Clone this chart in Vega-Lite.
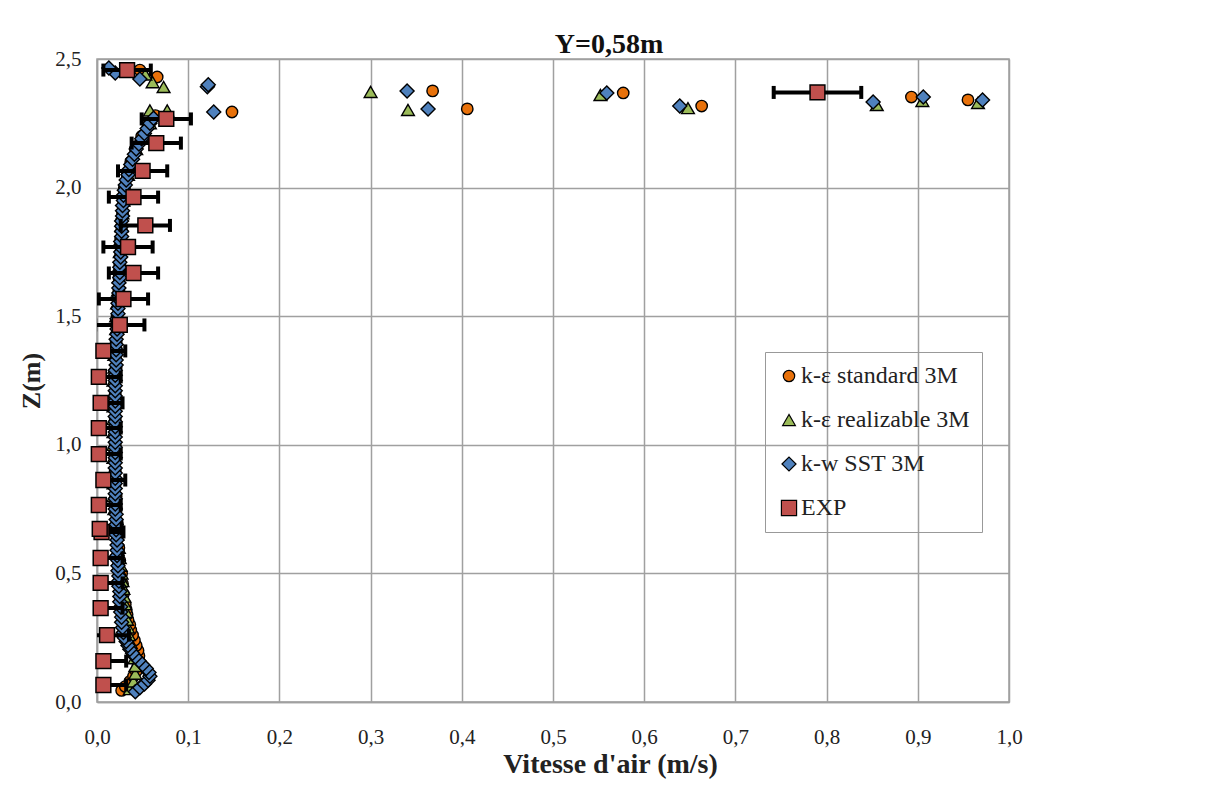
{
  "$schema": "https://vega.github.io/schema/vega-lite/v6.json",
  "width": 912,
  "height": 643,
  "autosize": {"type": "none"},
  "padding": {"left": 97, "top": 59, "right": 207, "bottom": 90},
  "background": "white",
  "config": {
    "font": "Liberation Serif",
    "view": {"stroke": "#a0a0a0", "strokeWidth": 1.5},
    "scale": {"continuousPadding": 0},
    "axis": {
      "gridColor": "#a0a0a0",
      "gridWidth": 1.5,
      "domainColor": "#a0a0a0",
      "domainWidth": 1.5,
      "ticks": false,
      "labelFlush": false,
      "labelFont": "Liberation Serif",
      "labelFontSize": 21,
      "labelColor": "#222",
      "titleFont": "Liberation Serif",
      "titleFontSize": 26,
      "titleFontWeight": "bold",
      "titleColor": "#222"
    },
    "legend": {
      "symbolStrokeColor": "black",
      "symbolStrokeWidth": 1.2
    }
  },
  "title": {
    "text": "Y=0,58m",
    "font": "Liberation Serif",
    "fontSize": 28,
    "fontWeight": "bold",
    "color": "#111",
    "anchor": "middle",
    "dx": 56,
    "offset": -11
  },
  "datasets": {
    "sim": [
      {"series": "k-ε standard 3M", "v": 0.027, "z": 0.045},
      {"series": "k-ε standard 3M", "v": 0.031, "z": 0.06},
      {"series": "k-ε standard 3M", "v": 0.036, "z": 0.08},
      {"series": "k-ε standard 3M", "v": 0.04, "z": 0.1},
      {"series": "k-ε standard 3M", "v": 0.043, "z": 0.12},
      {"series": "k-ε standard 3M", "v": 0.045, "z": 0.14},
      {"series": "k-ε standard 3M", "v": 0.046, "z": 0.16},
      {"series": "k-ε standard 3M", "v": 0.046, "z": 0.18},
      {"series": "k-ε standard 3M", "v": 0.045, "z": 0.2},
      {"series": "k-ε standard 3M", "v": 0.043, "z": 0.22},
      {"series": "k-ε standard 3M", "v": 0.041, "z": 0.24},
      {"series": "k-ε standard 3M", "v": 0.039, "z": 0.26},
      {"series": "k-ε standard 3M", "v": 0.037, "z": 0.28},
      {"series": "k-ε standard 3M", "v": 0.036, "z": 0.3},
      {"series": "k-ε standard 3M", "v": 0.034, "z": 0.32},
      {"series": "k-ε standard 3M", "v": 0.033, "z": 0.34},
      {"series": "k-ε standard 3M", "v": 0.032, "z": 0.36},
      {"series": "k-ε standard 3M", "v": 0.031, "z": 0.38},
      {"series": "k-ε standard 3M", "v": 0.029, "z": 0.42},
      {"series": "k-ε standard 3M", "v": 0.028, "z": 0.46},
      {"series": "k-ε standard 3M", "v": 0.027, "z": 0.5},
      {"series": "k-ε standard 3M", "v": 0.025, "z": 0.55},
      {"series": "k-ε standard 3M", "v": 0.024, "z": 0.6},
      {"series": "k-ε standard 3M", "v": 0.023, "z": 0.65},
      {"series": "k-ε standard 3M", "v": 0.022, "z": 0.7},
      {"series": "k-ε standard 3M", "v": 0.021, "z": 0.75},
      {"series": "k-ε standard 3M", "v": 0.021, "z": 0.8},
      {"series": "k-ε standard 3M", "v": 0.02, "z": 0.85},
      {"series": "k-ε standard 3M", "v": 0.02, "z": 0.9},
      {"series": "k-ε standard 3M", "v": 0.02, "z": 0.95},
      {"series": "k-ε standard 3M", "v": 0.02, "z": 1.0},
      {"series": "k-ε standard 3M", "v": 0.02, "z": 1.05},
      {"series": "k-ε standard 3M", "v": 0.02, "z": 1.1},
      {"series": "k-ε standard 3M", "v": 0.02, "z": 1.15},
      {"series": "k-ε standard 3M", "v": 0.02, "z": 1.2},
      {"series": "k-ε standard 3M", "v": 0.02, "z": 1.25},
      {"series": "k-ε standard 3M", "v": 0.021, "z": 1.3},
      {"series": "k-ε standard 3M", "v": 0.021, "z": 1.35},
      {"series": "k-ε standard 3M", "v": 0.021, "z": 1.4},
      {"series": "k-ε standard 3M", "v": 0.022, "z": 1.45},
      {"series": "k-ε standard 3M", "v": 0.022, "z": 1.5},
      {"series": "k-ε standard 3M", "v": 0.023, "z": 1.55},
      {"series": "k-ε standard 3M", "v": 0.024, "z": 1.6},
      {"series": "k-ε standard 3M", "v": 0.024, "z": 1.65},
      {"series": "k-ε standard 3M", "v": 0.025, "z": 1.7},
      {"series": "k-ε standard 3M", "v": 0.026, "z": 1.75},
      {"series": "k-ε standard 3M", "v": 0.026, "z": 1.8},
      {"series": "k-ε standard 3M", "v": 0.027, "z": 1.85},
      {"series": "k-ε standard 3M", "v": 0.028, "z": 1.9},
      {"series": "k-ε standard 3M", "v": 0.029, "z": 1.95},
      {"series": "k-ε standard 3M", "v": 0.03, "z": 2.0},
      {"series": "k-ε standard 3M", "v": 0.033, "z": 2.05},
      {"series": "k-ε standard 3M", "v": 0.037, "z": 2.1},
      {"series": "k-ε standard 3M", "v": 0.042, "z": 2.15},
      {"series": "k-ε standard 3M", "v": 0.049, "z": 2.2},
      {"series": "k-ε standard 3M", "v": 0.056, "z": 2.24},
      {"series": "k-ε standard 3M", "v": 0.064, "z": 2.28},
      {"series": "k-ε standard 3M", "v": 0.148, "z": 2.294},
      {"series": "k-ε standard 3M", "v": 0.406, "z": 2.306},
      {"series": "k-ε standard 3M", "v": 0.663, "z": 2.317},
      {"series": "k-ε standard 3M", "v": 0.955, "z": 2.341},
      {"series": "k-ε standard 3M", "v": 0.893, "z": 2.352},
      {"series": "k-ε standard 3M", "v": 0.577, "z": 2.368},
      {"series": "k-ε standard 3M", "v": 0.368, "z": 2.376},
      {"series": "k-ε standard 3M", "v": 0.066, "z": 2.43},
      {"series": "k-ε standard 3M", "v": 0.047, "z": 2.457},
      {"series": "k-ε realizable 3M", "v": 0.036, "z": 0.05},
      {"series": "k-ε realizable 3M", "v": 0.04, "z": 0.08},
      {"series": "k-ε realizable 3M", "v": 0.042, "z": 0.11},
      {"series": "k-ε realizable 3M", "v": 0.042, "z": 0.14},
      {"series": "k-ε realizable 3M", "v": 0.041, "z": 0.17},
      {"series": "k-ε realizable 3M", "v": 0.039, "z": 0.2},
      {"series": "k-ε realizable 3M", "v": 0.037, "z": 0.23},
      {"series": "k-ε realizable 3M", "v": 0.035, "z": 0.26},
      {"series": "k-ε realizable 3M", "v": 0.034, "z": 0.29},
      {"series": "k-ε realizable 3M", "v": 0.033, "z": 0.32},
      {"series": "k-ε realizable 3M", "v": 0.032, "z": 0.35},
      {"series": "k-ε realizable 3M", "v": 0.031, "z": 0.38},
      {"series": "k-ε realizable 3M", "v": 0.03, "z": 0.41},
      {"series": "k-ε realizable 3M", "v": 0.029, "z": 0.44},
      {"series": "k-ε realizable 3M", "v": 0.028, "z": 0.47},
      {"series": "k-ε realizable 3M", "v": 0.027, "z": 0.5},
      {"series": "k-ε realizable 3M", "v": 0.026, "z": 0.53},
      {"series": "k-ε realizable 3M", "v": 0.025, "z": 0.56},
      {"series": "k-ε realizable 3M", "v": 0.024, "z": 0.6},
      {"series": "k-ε realizable 3M", "v": 0.022, "z": 0.65},
      {"series": "k-ε realizable 3M", "v": 0.02, "z": 0.7},
      {"series": "k-ε realizable 3M", "v": 0.019, "z": 0.75},
      {"series": "k-ε realizable 3M", "v": 0.018, "z": 0.8},
      {"series": "k-ε realizable 3M", "v": 0.018, "z": 0.85},
      {"series": "k-ε realizable 3M", "v": 0.018, "z": 0.9},
      {"series": "k-ε realizable 3M", "v": 0.018, "z": 0.95},
      {"series": "k-ε realizable 3M", "v": 0.018, "z": 1.0},
      {"series": "k-ε realizable 3M", "v": 0.018, "z": 1.05},
      {"series": "k-ε realizable 3M", "v": 0.018, "z": 1.1},
      {"series": "k-ε realizable 3M", "v": 0.018, "z": 1.15},
      {"series": "k-ε realizable 3M", "v": 0.018, "z": 1.2},
      {"series": "k-ε realizable 3M", "v": 0.018, "z": 1.25},
      {"series": "k-ε realizable 3M", "v": 0.019, "z": 1.3},
      {"series": "k-ε realizable 3M", "v": 0.019, "z": 1.35},
      {"series": "k-ε realizable 3M", "v": 0.02, "z": 1.4},
      {"series": "k-ε realizable 3M", "v": 0.021, "z": 1.45},
      {"series": "k-ε realizable 3M", "v": 0.021, "z": 1.5},
      {"series": "k-ε realizable 3M", "v": 0.022, "z": 1.55},
      {"series": "k-ε realizable 3M", "v": 0.023, "z": 1.6},
      {"series": "k-ε realizable 3M", "v": 0.024, "z": 1.65},
      {"series": "k-ε realizable 3M", "v": 0.025, "z": 1.7},
      {"series": "k-ε realizable 3M", "v": 0.025, "z": 1.75},
      {"series": "k-ε realizable 3M", "v": 0.026, "z": 1.8},
      {"series": "k-ε realizable 3M", "v": 0.027, "z": 1.85},
      {"series": "k-ε realizable 3M", "v": 0.028, "z": 1.9},
      {"series": "k-ε realizable 3M", "v": 0.029, "z": 1.95},
      {"series": "k-ε realizable 3M", "v": 0.031, "z": 2.0},
      {"series": "k-ε realizable 3M", "v": 0.034, "z": 2.05},
      {"series": "k-ε realizable 3M", "v": 0.038, "z": 2.1},
      {"series": "k-ε realizable 3M", "v": 0.043, "z": 2.15},
      {"series": "k-ε realizable 3M", "v": 0.05, "z": 2.2},
      {"series": "k-ε realizable 3M", "v": 0.058, "z": 2.25},
      {"series": "k-ε realizable 3M", "v": 0.058, "z": 2.3},
      {"series": "k-ε realizable 3M", "v": 0.077, "z": 2.3},
      {"series": "k-ε realizable 3M", "v": 0.341, "z": 2.302},
      {"series": "k-ε realizable 3M", "v": 0.648, "z": 2.309},
      {"series": "k-ε realizable 3M", "v": 0.855, "z": 2.321},
      {"series": "k-ε realizable 3M", "v": 0.966, "z": 2.329},
      {"series": "k-ε realizable 3M", "v": 0.905, "z": 2.337},
      {"series": "k-ε realizable 3M", "v": 0.552, "z": 2.36},
      {"series": "k-ε realizable 3M", "v": 0.3, "z": 2.372},
      {"series": "k-ε realizable 3M", "v": 0.073, "z": 2.391},
      {"series": "k-ε realizable 3M", "v": 0.061, "z": 2.41},
      {"series": "k-ε realizable 3M", "v": 0.053, "z": 2.44},
      {"series": "k-w SST 3M", "v": 0.042, "z": 0.04},
      {"series": "k-w SST 3M", "v": 0.047, "z": 0.055},
      {"series": "k-w SST 3M", "v": 0.052, "z": 0.07},
      {"series": "k-w SST 3M", "v": 0.056, "z": 0.085},
      {"series": "k-w SST 3M", "v": 0.058, "z": 0.1},
      {"series": "k-w SST 3M", "v": 0.057, "z": 0.115},
      {"series": "k-w SST 3M", "v": 0.054, "z": 0.13},
      {"series": "k-w SST 3M", "v": 0.05, "z": 0.145},
      {"series": "k-w SST 3M", "v": 0.046, "z": 0.16},
      {"series": "k-w SST 3M", "v": 0.042, "z": 0.175},
      {"series": "k-w SST 3M", "v": 0.039, "z": 0.19},
      {"series": "k-w SST 3M", "v": 0.036, "z": 0.205},
      {"series": "k-w SST 3M", "v": 0.034, "z": 0.22},
      {"series": "k-w SST 3M", "v": 0.032, "z": 0.235},
      {"series": "k-w SST 3M", "v": 0.03, "z": 0.25},
      {"series": "k-w SST 3M", "v": 0.029, "z": 0.27},
      {"series": "k-w SST 3M", "v": 0.028, "z": 0.29},
      {"series": "k-w SST 3M", "v": 0.027, "z": 0.31},
      {"series": "k-w SST 3M", "v": 0.027, "z": 0.33},
      {"series": "k-w SST 3M", "v": 0.026, "z": 0.35},
      {"series": "k-w SST 3M", "v": 0.026, "z": 0.37},
      {"series": "k-w SST 3M", "v": 0.025, "z": 0.39},
      {"series": "k-w SST 3M", "v": 0.025, "z": 0.41},
      {"series": "k-w SST 3M", "v": 0.025, "z": 0.43},
      {"series": "k-w SST 3M", "v": 0.024, "z": 0.45},
      {"series": "k-w SST 3M", "v": 0.024, "z": 0.47},
      {"series": "k-w SST 3M", "v": 0.024, "z": 0.49},
      {"series": "k-w SST 3M", "v": 0.023, "z": 0.51},
      {"series": "k-w SST 3M", "v": 0.023, "z": 0.53},
      {"series": "k-w SST 3M", "v": 0.023, "z": 0.55},
      {"series": "k-w SST 3M", "v": 0.022, "z": 0.57},
      {"series": "k-w SST 3M", "v": 0.022, "z": 0.59},
      {"series": "k-w SST 3M", "v": 0.022, "z": 0.61},
      {"series": "k-w SST 3M", "v": 0.022, "z": 0.63},
      {"series": "k-w SST 3M", "v": 0.021, "z": 0.65},
      {"series": "k-w SST 3M", "v": 0.021, "z": 0.67},
      {"series": "k-w SST 3M", "v": 0.021, "z": 0.69},
      {"series": "k-w SST 3M", "v": 0.021, "z": 0.71},
      {"series": "k-w SST 3M", "v": 0.021, "z": 0.73},
      {"series": "k-w SST 3M", "v": 0.02, "z": 0.75},
      {"series": "k-w SST 3M", "v": 0.02, "z": 0.77},
      {"series": "k-w SST 3M", "v": 0.02, "z": 0.79},
      {"series": "k-w SST 3M", "v": 0.02, "z": 0.81},
      {"series": "k-w SST 3M", "v": 0.02, "z": 0.83},
      {"series": "k-w SST 3M", "v": 0.02, "z": 0.85},
      {"series": "k-w SST 3M", "v": 0.02, "z": 0.87},
      {"series": "k-w SST 3M", "v": 0.02, "z": 0.89},
      {"series": "k-w SST 3M", "v": 0.02, "z": 0.91},
      {"series": "k-w SST 3M", "v": 0.02, "z": 0.93},
      {"series": "k-w SST 3M", "v": 0.02, "z": 0.95},
      {"series": "k-w SST 3M", "v": 0.02, "z": 0.97},
      {"series": "k-w SST 3M", "v": 0.02, "z": 0.99},
      {"series": "k-w SST 3M", "v": 0.02, "z": 1.01},
      {"series": "k-w SST 3M", "v": 0.02, "z": 1.03},
      {"series": "k-w SST 3M", "v": 0.02, "z": 1.05},
      {"series": "k-w SST 3M", "v": 0.02, "z": 1.07},
      {"series": "k-w SST 3M", "v": 0.02, "z": 1.09},
      {"series": "k-w SST 3M", "v": 0.02, "z": 1.11},
      {"series": "k-w SST 3M", "v": 0.02, "z": 1.13},
      {"series": "k-w SST 3M", "v": 0.02, "z": 1.15},
      {"series": "k-w SST 3M", "v": 0.02, "z": 1.17},
      {"series": "k-w SST 3M", "v": 0.02, "z": 1.19},
      {"series": "k-w SST 3M", "v": 0.02, "z": 1.21},
      {"series": "k-w SST 3M", "v": 0.02, "z": 1.23},
      {"series": "k-w SST 3M", "v": 0.02, "z": 1.25},
      {"series": "k-w SST 3M", "v": 0.02, "z": 1.27},
      {"series": "k-w SST 3M", "v": 0.02, "z": 1.29},
      {"series": "k-w SST 3M", "v": 0.021, "z": 1.31},
      {"series": "k-w SST 3M", "v": 0.021, "z": 1.33},
      {"series": "k-w SST 3M", "v": 0.021, "z": 1.35},
      {"series": "k-w SST 3M", "v": 0.021, "z": 1.37},
      {"series": "k-w SST 3M", "v": 0.021, "z": 1.39},
      {"series": "k-w SST 3M", "v": 0.021, "z": 1.41},
      {"series": "k-w SST 3M", "v": 0.022, "z": 1.43},
      {"series": "k-w SST 3M", "v": 0.022, "z": 1.45},
      {"series": "k-w SST 3M", "v": 0.022, "z": 1.47},
      {"series": "k-w SST 3M", "v": 0.022, "z": 1.49},
      {"series": "k-w SST 3M", "v": 0.023, "z": 1.51},
      {"series": "k-w SST 3M", "v": 0.023, "z": 1.53},
      {"series": "k-w SST 3M", "v": 0.023, "z": 1.55},
      {"series": "k-w SST 3M", "v": 0.023, "z": 1.57},
      {"series": "k-w SST 3M", "v": 0.024, "z": 1.59},
      {"series": "k-w SST 3M", "v": 0.024, "z": 1.61},
      {"series": "k-w SST 3M", "v": 0.024, "z": 1.63},
      {"series": "k-w SST 3M", "v": 0.025, "z": 1.65},
      {"series": "k-w SST 3M", "v": 0.025, "z": 1.67},
      {"series": "k-w SST 3M", "v": 0.025, "z": 1.69},
      {"series": "k-w SST 3M", "v": 0.025, "z": 1.71},
      {"series": "k-w SST 3M", "v": 0.026, "z": 1.73},
      {"series": "k-w SST 3M", "v": 0.026, "z": 1.75},
      {"series": "k-w SST 3M", "v": 0.026, "z": 1.77},
      {"series": "k-w SST 3M", "v": 0.026, "z": 1.79},
      {"series": "k-w SST 3M", "v": 0.027, "z": 1.81},
      {"series": "k-w SST 3M", "v": 0.027, "z": 1.83},
      {"series": "k-w SST 3M", "v": 0.027, "z": 1.85},
      {"series": "k-w SST 3M", "v": 0.027, "z": 1.87},
      {"series": "k-w SST 3M", "v": 0.028, "z": 1.89},
      {"series": "k-w SST 3M", "v": 0.028, "z": 1.91},
      {"series": "k-w SST 3M", "v": 0.028, "z": 1.93},
      {"series": "k-w SST 3M", "v": 0.029, "z": 1.95},
      {"series": "k-w SST 3M", "v": 0.029, "z": 1.97},
      {"series": "k-w SST 3M", "v": 0.03, "z": 1.99},
      {"series": "k-w SST 3M", "v": 0.031, "z": 2.01},
      {"series": "k-w SST 3M", "v": 0.032, "z": 2.03},
      {"series": "k-w SST 3M", "v": 0.034, "z": 2.05},
      {"series": "k-w SST 3M", "v": 0.035, "z": 2.07},
      {"series": "k-w SST 3M", "v": 0.037, "z": 2.09},
      {"series": "k-w SST 3M", "v": 0.039, "z": 2.11},
      {"series": "k-w SST 3M", "v": 0.041, "z": 2.13},
      {"series": "k-w SST 3M", "v": 0.043, "z": 2.15},
      {"series": "k-w SST 3M", "v": 0.046, "z": 2.17},
      {"series": "k-w SST 3M", "v": 0.049, "z": 2.19},
      {"series": "k-w SST 3M", "v": 0.052, "z": 2.21},
      {"series": "k-w SST 3M", "v": 0.055, "z": 2.23},
      {"series": "k-w SST 3M", "v": 0.058, "z": 2.25},
      {"series": "k-w SST 3M", "v": 0.062, "z": 2.27},
      {"series": "k-w SST 3M", "v": 0.128, "z": 2.294},
      {"series": "k-w SST 3M", "v": 0.363, "z": 2.306},
      {"series": "k-w SST 3M", "v": 0.639, "z": 2.317},
      {"series": "k-w SST 3M", "v": 0.851, "z": 2.333},
      {"series": "k-w SST 3M", "v": 0.971, "z": 2.341},
      {"series": "k-w SST 3M", "v": 0.906, "z": 2.352},
      {"series": "k-w SST 3M", "v": 0.559, "z": 2.368},
      {"series": "k-w SST 3M", "v": 0.34, "z": 2.376},
      {"series": "k-w SST 3M", "v": 0.121, "z": 2.392},
      {"series": "k-w SST 3M", "v": 0.122, "z": 2.4},
      {"series": "k-w SST 3M", "v": 0.047, "z": 2.422},
      {"series": "k-w SST 3M", "v": 0.02, "z": 2.446},
      {"series": "k-w SST 3M", "v": 0.013, "z": 2.465}
    ],
    "exp": [
      {"series": "EXP", "v": 0.007, "z": 0.066, "lo": -0.018, "hi": 0.032},
      {"series": "EXP", "v": 0.007, "z": 0.159, "lo": -0.018, "hi": 0.032},
      {"series": "EXP", "v": 0.011, "z": 0.26, "lo": -0.013, "hi": 0.035},
      {"series": "EXP", "v": 0.004, "z": 0.365, "lo": -0.02, "hi": 0.028},
      {"series": "EXP", "v": 0.004, "z": 0.463, "lo": -0.02, "hi": 0.028},
      {"series": "EXP", "v": 0.004, "z": 0.56, "lo": -0.02, "hi": 0.028},
      {"series": "EXP", "v": 0.005, "z": 0.661, "lo": -0.019, "hi": 0.029},
      {"series": "EXP", "v": 0.003, "z": 0.673, "lo": -0.021, "hi": 0.027},
      {"series": "EXP", "v": 0.002, "z": 0.766, "lo": -0.022, "hi": 0.026},
      {"series": "EXP", "v": 0.007, "z": 0.863, "lo": -0.017, "hi": 0.031},
      {"series": "EXP", "v": 0.002, "z": 0.964, "lo": -0.022, "hi": 0.026},
      {"series": "EXP", "v": 0.002, "z": 1.065, "lo": -0.022, "hi": 0.026},
      {"series": "EXP", "v": 0.004, "z": 1.163, "lo": -0.02, "hi": 0.028},
      {"series": "EXP", "v": 0.002, "z": 1.264, "lo": -0.022, "hi": 0.026},
      {"series": "EXP", "v": 0.007, "z": 1.365, "lo": -0.017, "hi": 0.031},
      {"series": "EXP", "v": 0.025, "z": 1.466, "lo": -0.002, "hi": 0.052},
      {"series": "EXP", "v": 0.029, "z": 1.567, "lo": 0.002, "hi": 0.056},
      {"series": "EXP", "v": 0.04, "z": 1.668, "lo": 0.013, "hi": 0.067},
      {"series": "EXP", "v": 0.034, "z": 1.769, "lo": 0.007, "hi": 0.061},
      {"series": "EXP", "v": 0.053, "z": 1.853, "lo": 0.026, "hi": 0.08},
      {"series": "EXP", "v": 0.04, "z": 1.963, "lo": 0.013, "hi": 0.067},
      {"series": "EXP", "v": 0.05, "z": 2.065, "lo": 0.023, "hi": 0.077},
      {"series": "EXP", "v": 0.065, "z": 2.173, "lo": 0.038, "hi": 0.092},
      {"series": "EXP", "v": 0.076, "z": 2.267, "lo": 0.049, "hi": 0.103},
      {"series": "EXP", "v": 0.79, "z": 2.37, "lo": 0.742, "hi": 0.838},
      {"series": "EXP", "v": 0.033, "z": 2.457, "lo": 0.007, "hi": 0.059}
    ]
  },
  "encoding": {
    "y": {
      "field": "z",
      "type": "quantitative",
      "scale": {"domain": [0, 2.5], "nice": false, "padding": 0},
      "axis": {
        "title": "Z(m)",
        "values": [0, 0.5, 1, 1.5, 2, 2.5],
        "labelExpr": "replace(format(datum.value, '.1f'), '.', ',')",
        "labelPadding": 16,
        "titlePadding": 10
      }
    }
  },
  "layer": [
    {
      "data": {"name": "sim"},
      "mark": {"type": "point", "filled": true, "opacity": 1, "stroke": "black", "strokeWidth": 1.4},
      "encoding": {
        "x": {
          "field": "v",
          "type": "quantitative",
          "scale": {"domain": [0, 1], "nice": false, "zero": false, "padding": 0},
          "axis": {
            "title": "Vitesse d'air (m/s)",
            "titleFontSize": 28,
            "values": [0, 0.1, 0.2, 0.3, 0.4, 0.5, 0.6, 0.7, 0.8, 0.9, 1],
            "labelExpr": "replace(format(datum.value, '.1f'), '.', ',')",
            "labelPadding": 24,
            "titlePadding": 3,
            "titleX": 513,
            "titleAnchor": "middle"
          }
        },
        "color": {
          "field": "series",
          "type": "nominal",
          "scale": {
            "domain": ["k-ε standard 3M", "k-ε realizable 3M", "k-w SST 3M", "EXP"],
            "range": ["#E8710A", "#9BBB59", "#4F81BD", "#C0504D"]
          },
          "legend": {
            "title": null,
            "orient": "none",
            "legendX": 668,
            "legendY": 293,
            "strokeColor": "#999999",
            "padding": 12,
            "labelFont": "Liberation Serif",
            "labelFontSize": 24,
            "labelColor": "#222",
            "labelLimit": 300,
            "symbolSize": 130,
            "rowPadding": 20,
            "labelOffset": 0
          }
        },
        "shape": {
          "field": "series",
          "type": "nominal",
          "scale": {
            "domain": ["k-ε standard 3M", "k-ε realizable 3M", "k-w SST 3M", "EXP"],
            "range": ["circle", "triangle-up", "diamond", "square"]
          }
        },
        "size": {
          "field": "series",
          "type": "nominal",
          "scale": {
            "domain": ["k-ε standard 3M", "k-ε realizable 3M", "k-w SST 3M", "EXP"],
            "range": [130, 230, 220, 220]
          },
          "legend": null
        }
      }
    },
    {
      "data": {"name": "exp"},
      "mark": {"type": "rule", "color": "black", "strokeWidth": 4, "clip": true},
      "encoding": {
        "x": {"field": "lo", "type": "quantitative", "scale": {"domain": [0, 1], "nice": false, "zero": false, "padding": 0}},
        "x2": {"field": "hi"}
      }
    },
    {
      "data": {"name": "exp"},
      "mark": {"type": "tick", "color": "black", "orient": "vertical", "size": 13, "thickness": 4, "opacity": 1, "clip": true},
      "encoding": {
        "x": {"field": "lo", "type": "quantitative", "scale": {"domain": [0, 1], "nice": false, "zero": false, "padding": 0}}
      }
    },
    {
      "data": {"name": "exp"},
      "mark": {"type": "tick", "color": "black", "orient": "vertical", "size": 13, "thickness": 4, "opacity": 1, "clip": true},
      "encoding": {
        "x": {"field": "hi", "type": "quantitative", "scale": {"domain": [0, 1], "nice": false, "zero": false, "padding": 0}}
      }
    },
    {
      "data": {"name": "exp"},
      "mark": {"type": "point", "filled": true, "opacity": 1, "stroke": "black", "strokeWidth": 1.5, "size": 220},
      "encoding": {
        "x": {"field": "v", "type": "quantitative", "scale": {"domain": [0, 1], "nice": false, "zero": false, "padding": 0}},
        "color": {"field": "series", "type": "nominal"},
        "shape": {"field": "series", "type": "nominal"}
      }
    }
  ]
}
